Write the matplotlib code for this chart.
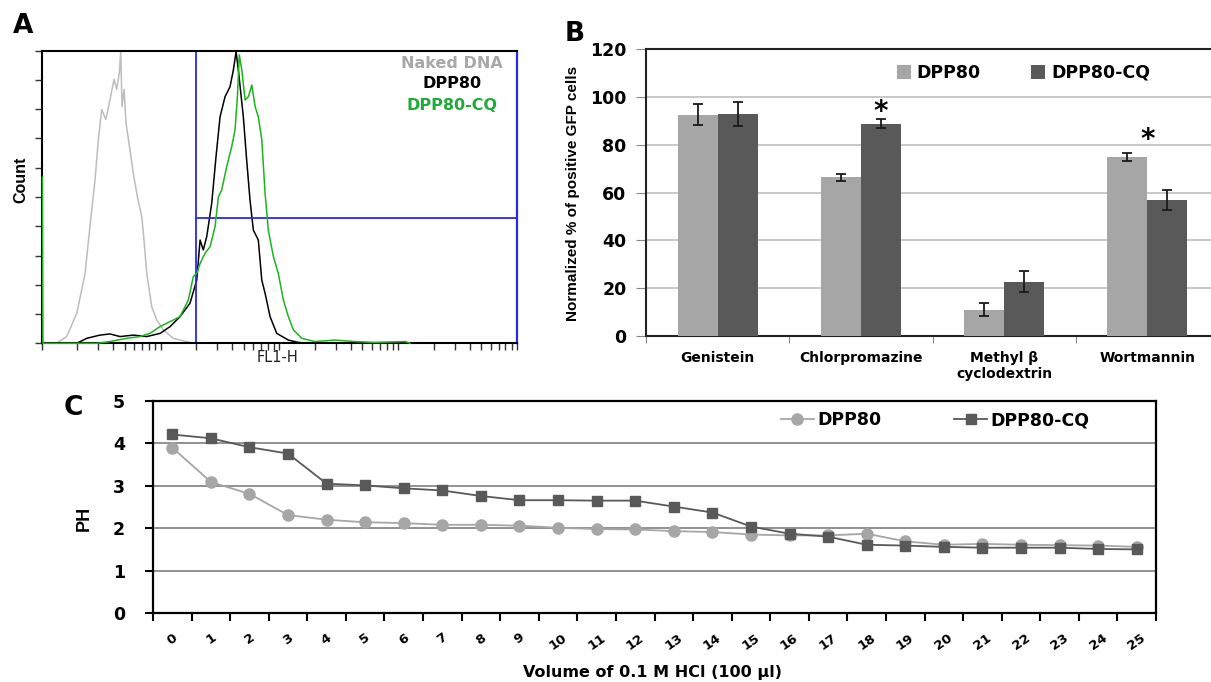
import numpy as np
import matplotlib
matplotlib.use('Agg')
import matplotlib.pyplot as plt
from matplotlib.ticker import LogLocator, NullFormatter, NullLocator

W, H = 1211, 682

# ---------------- Panel A: flow cytometry histograms ----------------
# x values are log10(FL1-H), counts are % of the peak channel
naked_u = [0.126, 0.21, 0.295, 0.365, 0.406, 0.449, 0.477, 0.505, 0.54, 0.575, 0.609,
           0.631, 0.653, 0.665, 0.676, 0.693, 0.71, 0.743, 0.771, 0.805, 0.842, 0.861,
           0.884, 0.926, 0.968, 1.024, 1.108, 1.276]
naked_c = [0, 2.3, 10.2, 23.9, 39.9, 55.9, 69.6, 79.9, 76.5, 83.3, 90.2,
           86.8, 92.3, 99.7, 80.9, 86.8, 75.2, 66.0, 58.1, 50.1, 43.3, 35.3,
           23.9, 12.5, 8.0, 4.6, 1.7, 0]

dpp80_u = [0.295, 0.379, 0.49, 0.575, 0.659, 0.771, 0.884, 0.997, 1.08, 1.164, 1.248,
           1.305, 1.333, 1.36, 1.389, 1.431, 1.467, 1.501, 1.543, 1.585, 1.613, 1.636,
           1.658, 1.697, 1.725, 1.753, 1.781, 1.823, 1.852, 1.88, 1.922, 1.978, 2.076,
           2.16, 2.24]
dpp80_c = [0, 1.7, 2.8, 3.2, 2.3, 2.8, 2.3, 3.4, 5.7, 9.1, 13.7,
           21.6, 35.3, 31.9, 36.5, 47.9, 63.8, 77.4, 84.3, 87.7, 93.4, 99.7,
           92.3, 77.4, 62.6, 49.0, 38.7, 35.3, 21.6, 17.1, 9.1, 3.4, 1.1,
           0.3, 0]

cq_u = [0.006, 0.01, 0.463, 0.575, 0.715, 0.827, 0.911, 0.995, 1.08, 1.164, 1.234,
        1.276, 1.305, 1.333, 1.375, 1.417, 1.459, 1.487, 1.515, 1.557, 1.599, 1.627,
        1.647, 1.663, 1.684, 1.712, 1.74, 1.768, 1.796, 1.823, 1.852, 1.88, 1.907,
        1.95, 1.991, 2.034, 2.076, 2.118, 2.189, 2.3, 2.469, 2.637, 2.8, 3.06, 3.1]
cq_c = [56.8, 0, 0, 0.6, 1.7, 2.3, 3.4, 5.7, 7.4, 9.1, 14.8,
        22.8, 23.9, 27.3, 30.8, 33.0, 39.9, 50.1, 52.4, 60.4, 67.2, 72.9,
        84.3, 98.6, 93.4, 83.1, 84.3, 88.3, 80.9, 77.4, 69.6, 51.3, 38.7,
        29.6, 23.9, 14.8, 9.1, 4.6, 1.7, 0.6, 1.1, 0.6, 0.3, 0.6, 0]

gate_x = 20
gate_y = 42.7

# ---------------- Panel B: uptake inhibitors ----------------
treatments = ['Genistein', 'Chlorpromazine', 'Methyl β\ncyclodextrin', 'Wortmannin']
gfp_dpp80 = [92.6, 66.4, 11.0, 74.9]
gfp_dpp80_err = [4.3, 1.6, 2.8, 1.8]
gfp_cq = [93.0, 88.9, 22.8, 57.0]
gfp_cq_err = [5.0, 2.0, 4.4, 4.3]

# ---------------- Panel C: buffering capacity ----------------
hcl_volume = list(range(26))
ph_dpp80 = [3.90, 3.09, 2.81, 2.31, 2.20, 2.14, 2.12, 2.08, 2.08, 2.06, 2.01, 1.98, 1.97,
            1.93, 1.91, 1.85, 1.83, 1.83, 1.87, 1.69, 1.61, 1.63, 1.61, 1.60, 1.59, 1.56]
ph_cq = [4.21, 4.12, 3.91, 3.76, 3.05, 3.01, 2.94, 2.89, 2.76, 2.66, 2.66, 2.65, 2.65,
         2.51, 2.37, 2.04, 1.87, 1.80, 1.61, 1.59, 1.56, 1.54, 1.54, 1.54, 1.51, 1.50]

plt.rcParams['font.family'] = 'DejaVu Sans'
plt.rcParams['font.weight'] = 'bold'
narrow = 'Liberation Sans'


def box(l, t, r, b):
    return [l / W, 1 - b / H, (r - l) / W, (b - t) / H]


def ftext(px, py, s, **kw):
    fig.text(px / W, 1 - py / H, s, ha='center', va='center', **kw)


fig = plt.figure(figsize=(W / 100, H / 100), dpi=100)

# ---- A
axA = fig.add_axes(box(41.7, 50.7, 517, 343.3))
axA.plot(10 ** np.array(naked_u), naked_c, color='#BDBDBD', lw=1.1)
axA.plot(10 ** np.array(dpp80_u), dpp80_c, color='black', lw=1.1)
axA.plot(10 ** np.array(cq_u), cq_c, color='#1DB31D', lw=1.1, clip_on=False, zorder=3)
axA.set_xscale('log')
axA.set_xlim(1, 1e4)
axA.set_ylim(0, 100)
axA.xaxis.set_major_locator(LogLocator(base=10, subs=np.arange(1, 10), numticks=100))
axA.xaxis.set_major_formatter(NullFormatter())
axA.xaxis.set_minor_locator(NullLocator())
axA.set_yticks(np.arange(0, 101, 10))
axA.set_yticklabels([])
axA.tick_params(direction='out', length=5, width=1, color='#333333')
blue = '#2828F0'
axA.plot([gate_x, gate_x], [0, 100], color=blue, lw=1.3)
axA.plot([gate_x, 1e4], [gate_y, gate_y], color=blue, lw=1.3)
axA.spines['right'].set_color(blue)
axA.spines['right'].set_linewidth(1.6)
for s in ['left', 'bottom', 'top']:
    axA.spines[s].set_linewidth(1.5)

ftext(452, 63, 'Naked DNA', color='#A8A8A8', fontsize=11.5)
ftext(452, 84, 'DPP80', color='black', fontsize=11.5)
ftext(452, 105, 'DPP80-CQ', color='#1FAA3A', fontsize=11.5)
ftext(23, 26, 'A', fontsize=19)
ftext(21, 180, 'Count', rotation=90, family=narrow, fontsize=11.5)
ftext(277, 358, 'FL1-H', fontsize=10.5, fontweight='normal', color='#222222')

# ---- B
axB = fig.add_axes(box(646, 49.3, 1219, 336))
x = np.arange(len(treatments))
bw = 0.28
ekw = dict(elinewidth=1.3, capthick=1.3, ecolor='#1a1a1a', zorder=4)
axB.bar(x - bw / 2, gfp_dpp80, bw, yerr=gfp_dpp80_err, capsize=3.3, color='#A6A6A6',
        label='DPP80', error_kw=ekw, zorder=3)
axB.bar(x + bw / 2, gfp_cq, bw, yerr=gfp_cq_err, capsize=3.3, color='#595959',
        label='DPP80-CQ', error_kw=ekw, zorder=3)
axB.set_xlim(-0.5, 3.5)
axB.set_ylim(0, 120)
axB.set_yticks(range(0, 121, 20))
axB.yaxis.grid(True, color='#BFBFBF', lw=1.2)
axB.set_axisbelow(True)
axB.set_xticks(np.arange(-0.5, 4, 1))
axB.set_xticklabels([])
axB.set_xticks(x, labels=treatments, minor=True)
axB.tick_params(axis='x', which='minor', length=0, pad=11, labelsize=10)
axB.tick_params(axis='x', which='major', length=5, direction='out', color='#888888')
axB.tick_params(axis='y', length=7, pad=7, labelsize=12.5, color='#888888')
for s in ['left', 'bottom', 'top']:
    axB.spines[s].set_linewidth(1.5)
    axB.spines[s].set_color('#222222')
axB.text(1 + bw / 2, 90.3, '*', ha='center', va='baseline', fontsize=20)
axB.text(3, 78.6, '*', ha='center', va='baseline', fontsize=20)
axB.legend(loc='center left', bbox_to_anchor=(888 / W, 1 - 73 / H), bbox_transform=fig.transFigure,
           ncol=2, frameon=False, borderpad=0, fontsize=12.5, handlelength=0.8, handleheight=0.8,
           handletextpad=0.35, columnspacing=2.9)
ftext(575, 34, 'B', fontsize=19)
ftext(573, 193, 'Normalized % of positive GFP cells', rotation=90, family=narrow,
      fontsize=11)

# ---- C
axC = fig.add_axes(box(153, 401, 1156, 613))
axC.plot(hcl_volume, ph_dpp80, '-o', color='#A6A6A6', ms=8, lw=1.3, label='DPP80', zorder=3)
axC.plot(hcl_volume, ph_cq, '-s', color='#595959', ms=7.5, lw=1.3, label='DPP80-CQ', zorder=4)
axC.set_xlim(-0.5, 25.5)
axC.set_ylim(0, 5)
axC.set_yticks(range(6))
axC.yaxis.grid(True, color='#7F7F7F', lw=1.2)
axC.set_axisbelow(True)
axC.set_xticks(np.arange(-0.5, 26, 1))
axC.set_xticklabels([])
axC.set_xticks(hcl_volume, labels=[str(v) for v in hcl_volume], minor=True)
axC.tick_params(axis='x', which='minor', length=0, pad=13, labelsize=9.5, labelrotation=35)
axC.tick_params(axis='x', which='major', length=6, width=1.5, direction='out')
axC.tick_params(axis='y', length=6, width=1.5, pad=14, labelsize=12.5)
for s in axC.spines.values():
    s.set_linewidth(1.6)
axC.legend(loc='center left', bbox_to_anchor=(772 / W, 1 - 420 / H), bbox_transform=fig.transFigure,
           ncol=2, frameon=False, borderpad=0, fontsize=12.5, handlelength=1.9,
           handletextpad=0.2, columnspacing=4.2, numpoints=1)
ftext(73, 408, 'C', fontsize=19)
ftext(84, 518, 'PH', rotation=90, family=narrow, fontsize=13)
ftext(653, 672, 'Volume of 0.1 M HCl (100 µl)', fontsize=11.5)

fig.savefig('out.png', dpi=100)
